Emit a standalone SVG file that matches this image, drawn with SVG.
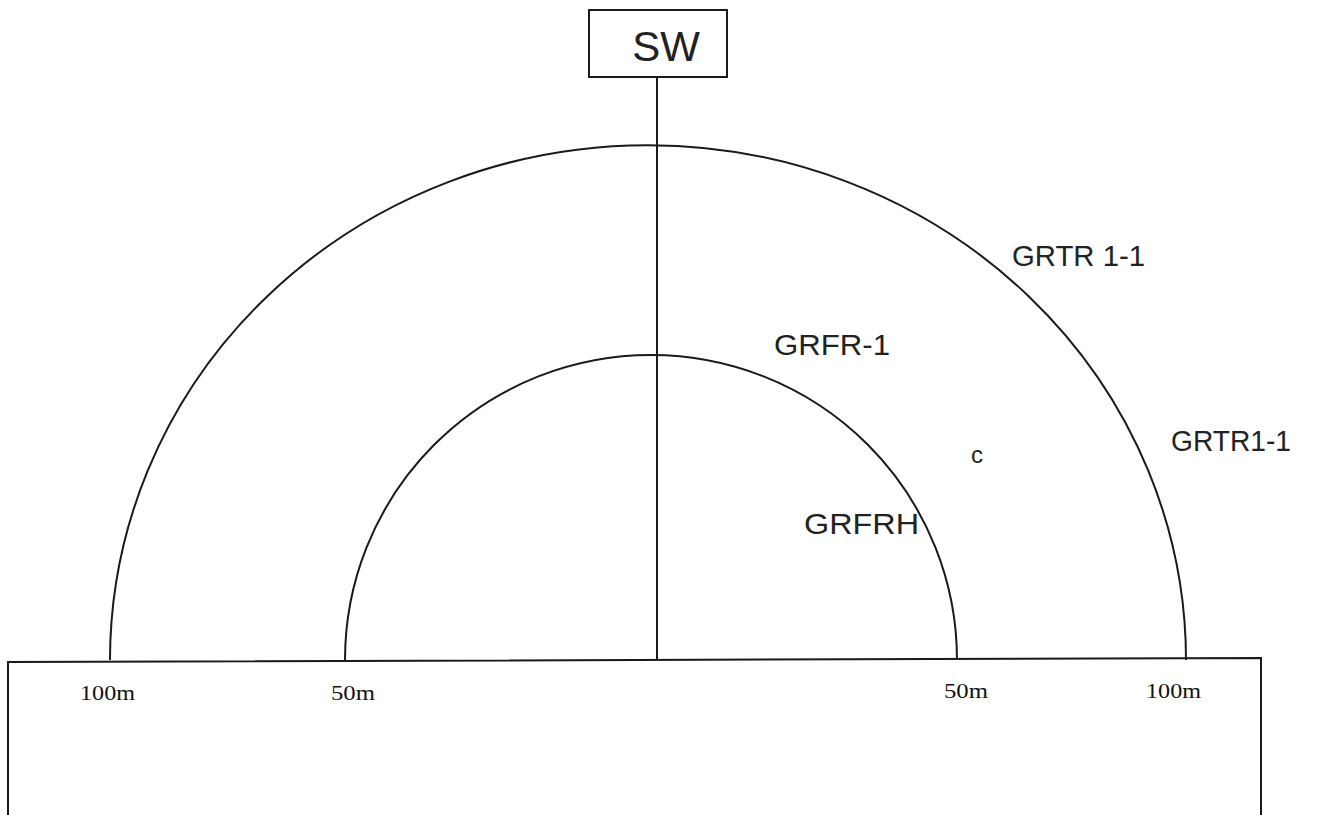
<svg xmlns="http://www.w3.org/2000/svg" width="1334" height="815" viewBox="0 0 1334 815">
<style>
.ln{fill:none;stroke:#1a1a1a;stroke-width:2}
.hand{font-family:"Liberation Sans",Arial,sans-serif;fill:#222;font-size:30px}
.lbl{font-family:"Liberation Serif","Times New Roman",serif;fill:#111;font-size:22px}
</style>
<rect width="1334" height="815" fill="#ffffff"/>
<g id="connectors">
<path class="ln" d="M110,660 A538,515 0 0 1 1186,660"/>
<path class="ln" d="M345,660 A306,305 0 0 1 957,660"/>
<line class="ln" x1="657" y1="77" x2="657" y2="660"/>
</g>
<g id="sw">
<rect class="ln" x="589" y="10" width="138" height="67"/>
<text class="hand" x="666" y="61" text-anchor="middle" style="font-size:42px">SW</text>
</g>
<g id="base">
<path class="ln" d="M8,815 V662 L1261,658 V815"/>
<text class="lbl" x="80" y="700" textLength="55" lengthAdjust="spacingAndGlyphs">100m</text>
<text class="lbl" x="331" y="700" textLength="44" lengthAdjust="spacingAndGlyphs">50m</text>
<text class="lbl" x="944" y="698" textLength="44" lengthAdjust="spacingAndGlyphs">50m</text>
<text class="lbl" x="1146" y="698" textLength="55" lengthAdjust="spacingAndGlyphs">100m</text>
</g>
<g id="labels">
<text class="hand" x="1012" y="266" textLength="133" lengthAdjust="spacingAndGlyphs">GRTR 1-1</text>
<text class="hand" x="774" y="355" textLength="116" lengthAdjust="spacingAndGlyphs">GRFR-1</text>
<text class="hand" x="1171" y="451" textLength="120" lengthAdjust="spacingAndGlyphs">GRTR1-1</text>
<text class="hand" x="804" y="534" textLength="115" lengthAdjust="spacingAndGlyphs">GRFRH</text>
<text class="hand" x="971" y="463" style="font-size:24px">c</text>
</g>
</svg>
